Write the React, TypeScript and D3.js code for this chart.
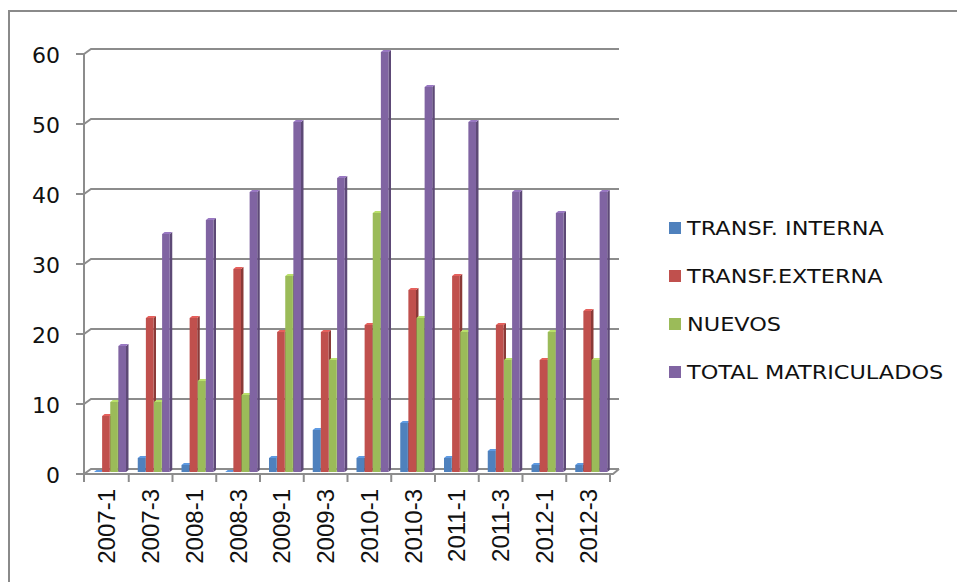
import React, { useEffect, useRef } from 'react';
import * as d3 from 'd3';

const categories = ['2007-1', '2007-3', '2008-1', '2008-3', '2009-1', '2009-3', '2010-1', '2010-3', '2011-1', '2011-3', '2012-1', '2012-3'];
const seriesNames = ['TRANSF. INTERNA', 'TRANSF.EXTERNA', 'NUEVOS', 'TOTAL MATRICULADOS'];
const transfInterna = [0, 2, 1, 0, 2, 6, 2, 7, 2, 3, 1, 1];
const transfExterna = [8, 22, 22, 29, 20, 20, 21, 26, 28, 21, 16, 23];
const nuevos = [10, 10, 13, 11, 28, 16, 37, 22, 20, 16, 20, 16];
const totalMatriculados = [18, 34, 36, 40, 50, 42, 60, 55, 50, 40, 37, 40];
const yTicks = [0, 10, 20, 30, 40, 50, 60];
const colors = ['#4F81BD', '#C0504D', '#9BBB59', '#8064A2'];

export default function App() {
  const ref = useRef<SVGSVGElement | null>(null);

  useEffect(() => {
    const svg = d3.select(ref.current);
    svg.selectAll('*').remove();
    const values = [transfInterna, transfExterna, nuevos, totalMatriculados];

    // 3d offsets of the back wall
    const dx = 7, dy = 5;
    const front = { left: 84, right: 610, bottom: 474 };

    const x = d3.scaleBand().domain(categories).range([front.left + 1, front.right]);
    const sub = d3.scaleBand().domain(seriesNames).range([9, 41]).paddingInner(0.06);
    const y = d3.scaleLinear().domain([0, 60]).range([front.bottom, front.bottom - 420]);

    // outer frame
    svg.append('rect').attr('x', 9).attr('y', 11).attr('width', 960).attr('height', 600)
      .attr('fill', 'none').attr('stroke', '#8a8a8a').attr('stroke-width', 2);

    const grid = svg.append('g').attr('fill', 'none').attr('stroke', '#8c8c8c').attr('stroke-width', 2);
    yTicks.forEach(t => {
      const yy = y(t);
      grid.append('path').attr('d', `M${front.left - 8},${yy}H${front.left}L${front.left + dx},${yy - dy}H${front.right + 9}`);
    });
    // front wall edge
    grid.append('line').attr('x1', front.left).attr('x2', front.left).attr('y1', y(60)).attr('y2', y(0));
    // floor
    grid.append('path').attr('d', `M${front.left},${y(0)}H${front.right + 3}L${front.right + 9},${y(0) - dy}`);
    // category ticks
    categories.forEach((c, i) => {
      const xx = i === 0 ? front.left : (x(c) as number);
      grid.append('line').attr('x1', xx).attr('x2', xx).attr('y1', y(0)).attr('y2', y(0) + 8);
    });
    grid.append('line').attr('x1', front.right).attr('x2', front.right).attr('y1', y(0)).attr('y2', y(0) + 8);

    // bars (front face, side face, top face)
    const base = y(0) - 2;
    const bw = sub.bandwidth();
    const side = 2.5;
    seriesNames.forEach((s, si) => {
      const col = d3.color(colors[si])!;
      const g = svg.append('g');
      values[si].forEach((v, ci) => {
        const x0 = (x(categories[ci]) as number) + (sub(s) as number);
        const top = base - (y(0) - y(v));
        g.append('path')
          .attr('d', `M${x0 + bw},${base}L${x0 + bw + side},${base - 2}V${top - 2}L${x0 + bw},${top}Z`)
          .attr('fill', col.darker(0.9).toString());
        g.append('path')
          .attr('d', `M${x0},${top}L${x0 + side},${top - 2}H${x0 + bw + side}L${x0 + bw},${top}Z`)
          .attr('fill', col.brighter(0.5).toString());
        g.append('rect').attr('x', x0).attr('y', top).attr('width', bw).attr('height', base - top)
          .attr('fill', colors[si]);
      });
    });

    // y labels
    svg.append('g').selectAll('text').data(yTicks).enter().append('text')
      .attr('x', 60).attr('y', d => y(d) + 1).attr('dy', '0.35em')
      .attr('text-anchor', 'end').attr('font-family', 'DejaVu Sans').attr('font-size', 22).attr('fill', '#111')
      .text(d => d);

    // x labels
    svg.append('g').selectAll('text').data(categories).enter().append('text')
      .attr('transform', d => `translate(${(x(d) as number) + x.bandwidth() / 2},489) rotate(-90)`)
      .attr('text-anchor', 'end').attr('dy', '0.35em')
      .attr('font-family', 'Liberation Sans').attr('font-size', 24).attr('fill', '#111')
      .text(d => d);

    // legend
    const leg = svg.append('g').attr('transform', 'translate(669,228)');
    seriesNames.forEach((s, i) => {
      const row = leg.append('g').attr('transform', `translate(0,${i * 48})`);
      row.append('rect').attr('x', 0).attr('y', -6).attr('width', 12).attr('height', 12).attr('fill', colors[i]);
      row.append('text').attr('transform', 'translate(18,0) scale(1.12,1)').attr('dy', '0.36em')
        .attr('font-family', 'DejaVu Sans').attr('font-size', 20).attr('fill', '#111')
        .text(s);
    });
  }, []);

  return (
    <svg ref={ref} width={957} height={582} style={{ position: 'absolute', left: 0, top: 0, background: '#fff' }} />
  );
}
